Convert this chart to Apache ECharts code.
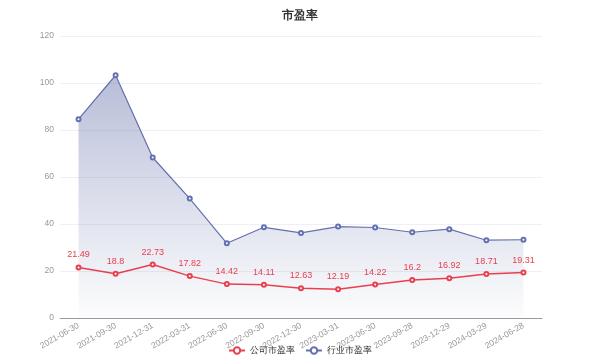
<!DOCTYPE html>
<html><head><meta charset="utf-8">
<script src="https://cdn.jsdelivr.net/npm/echarts@6/dist/echarts.min.js"></script>
<style>html,body{margin:0;padding:0;background:#fff}#c{width:600px;height:360px}</style>
</head><body><div id="c"></div>
<script>
var categories = ["2021-06-30","2021-09-30","2021-12-31","2022-03-31","2022-06-30","2022-09-30","2022-12-30","2023-03-31","2023-06-30","2023-09-28","2023-12-29","2024-03-29","2024-06-28"];
var companyPE = [21.49,18.8,22.73,17.82,14.42,14.11,12.63,12.19,14.22,16.2,16.92,18.71,19.31];
var industryPE = [84.6,103.3,68.3,50.8,31.8,38.6,36.2,38.9,38.5,36.5,37.8,33.1,33.3];
var yTicks = {min:0, max:120, interval:20};
var chart = echarts.init(document.getElementById('c'));
chart.setOption({
  animation:false,
  title:{text:'市盈率', left:'center', top:5, textStyle:{fontSize:11.5, fontWeight:'bold', color:'#333'}},
  grid:{left:60, right:58, top:36, bottom:42},
  legend:{bottom:0, left:'center', itemWidth:16, itemHeight:8, itemGap:10, textStyle:{fontSize:8.5, color:'#333'},
    data:['公司市盈率','行业市盈率']},
  xAxis:{type:'category', data:categories, boundaryGap:true,
    axisLine:{lineStyle:{color:'#999'}}, axisTick:{lineStyle:{color:'#999'}},
    axisLabel:{rotate:30, fontSize:8.5, color:'#999', interval:0, margin:7}},
  yAxis:{type:'value', min:yTicks.min, max:yTicks.max, interval:yTicks.interval,
    axisLine:{show:false}, axisTick:{show:false},
    axisLabel:{fontSize:8.5, color:'#999', margin:6},
    splitLine:{lineStyle:{color:'#eef0f6'}}},
  series:[
    {name:'公司市盈率', type:'line', data:companyPE, symbol:'emptyCircle', symbolSize:4, showAllSymbol:true,
      itemStyle:{color:'#e8404f', borderColor:'#e8404f', borderWidth:1},
      lineStyle:{color:'#e8404f', width:1.5},
      label:{show:true, position:'top', fontSize:9, color:'#e8404f', distance:5},
      z:3},
    {name:'行业市盈率', type:'line', data:industryPE, symbol:'emptyCircle', symbolSize:4, showAllSymbol:true,
      itemStyle:{color:'#6470b0', borderColor:'#6470b0', borderWidth:1},
      lineStyle:{color:'#6470b0', width:1.2},
      areaStyle:{color:new echarts.graphic.LinearGradient(0,0,0,1,[
        {offset:0, color:'rgba(100,112,170,0.65)'},
        {offset:1, color:'rgba(100,112,170,0.02)'}]), origin:'start'},
      z:2}
  ]
});
</script></body></html>
